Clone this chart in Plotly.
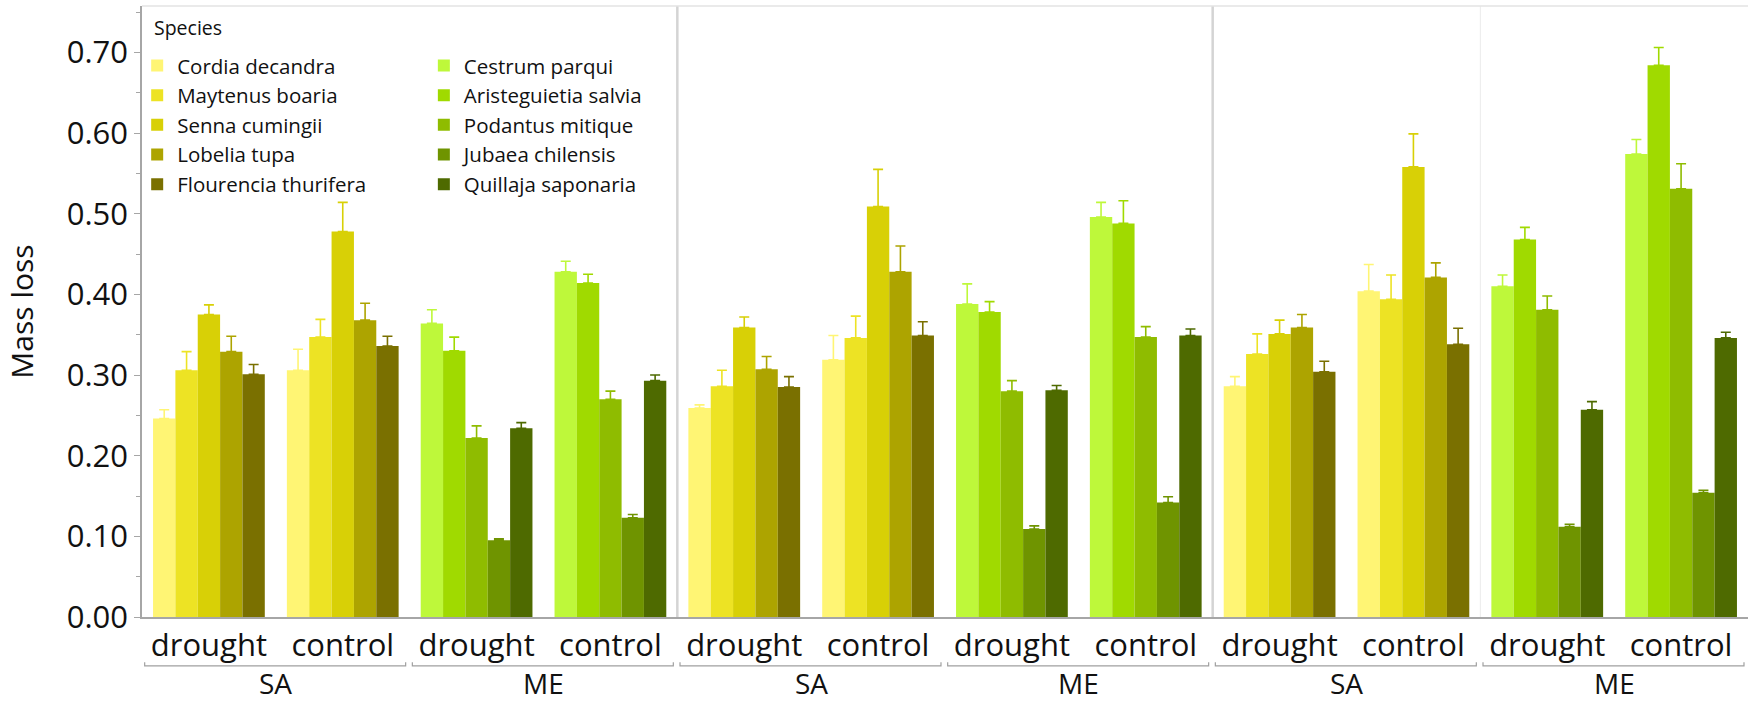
import plotly.graph_objects as go

# ---------------- data ----------------
categories = ["P1 SA drought", "P1 SA control", "P1 ME drought", "P1 ME control",
              "P2 SA drought", "P2 SA control", "P2 ME drought", "P2 ME control",
              "P3 SA drought", "P3 SA control", "P3 ME drought", "P3 ME control"]
tick_labels = ["drought", "control"] * 6
site_labels = ["SA", "ME", "SA", "ME", "SA", "ME"]
legend_title = "Species"

sa_species = ["Cordia decandra", "Maytenus boaria", "Senna cumingii", "Lobelia tupa", "Flourencia thurifera"]
me_species = ["Cestrum parqui", "Aristeguietia salvia", "Podantus mitique", "Jubaea chilensis", "Quillaja saponaria"]

# mean mass loss, order: P1 drought, P1 control, P2 drought, P2 control, P3 drought, P3 control
cordia = [0.246, 0.306, 0.259, 0.319, 0.286, 0.404]
maytenus = [0.306, 0.347, 0.286, 0.346, 0.326, 0.394]
senna = [0.375, 0.478, 0.359, 0.509, 0.351, 0.558]
lobelia = [0.329, 0.368, 0.307, 0.428, 0.359, 0.421]
flourencia = [0.301, 0.336, 0.285, 0.349, 0.304, 0.338]

cordia_top = [0.257, 0.332, 0.263, 0.349, 0.298, 0.437]
maytenus_top = [0.329, 0.369, 0.306, 0.373, 0.351, 0.424]
senna_top = [0.387, 0.514, 0.372, 0.555, 0.368, 0.599]
lobelia_top = [0.348, 0.389, 0.323, 0.460, 0.375, 0.439]
flourencia_top = [0.313, 0.348, 0.298, 0.366, 0.317, 0.358]

cestrum = [0.364, 0.428, 0.388, 0.496, 0.410, 0.574]
aristeguietia = [0.330, 0.414, 0.378, 0.488, 0.468, 0.684]
podantus = [0.222, 0.270, 0.280, 0.347, 0.381, 0.531]
jubaea = [0.095, 0.123, 0.109, 0.142, 0.112, 0.154]
quillaja = [0.234, 0.293, 0.281, 0.349, 0.257, 0.346]

cestrum_top = [0.381, 0.441, 0.413, 0.514, 0.424, 0.592]
aristeguietia_top = [0.347, 0.425, 0.391, 0.516, 0.483, 0.706]
podantus_top = [0.237, 0.280, 0.293, 0.360, 0.398, 0.562]
jubaea_top = [0.097, 0.127, 0.113, 0.149, 0.115, 0.157]
quillaja_top = [0.241, 0.300, 0.287, 0.357, 0.267, 0.353]

sa_colors = ["#FFF574", "#EDE324", "#D8D006", "#ADA400", "#7A7000"]
me_colors = ["#BEF83A", "#A0DA00", "#8FBC00", "#6F9400", "#4E6A00"]

sa_means = [cordia, maytenus, senna, lobelia, flourencia]
sa_tops = [cordia_top, maytenus_top, senna_top, lobelia_top, flourencia_top]
me_means = [cestrum, aristeguietia, podantus, jubaea, quillaja]
me_tops = [cestrum_top, aristeguietia_top, podantus_top, jubaea_top, quillaja_top]

sa_cats = [c for c in categories if " SA " in c]
me_cats = [c for c in categories if " ME " in c]

FONT = "Open Sans"
TXT = "#111111"

fig = go.Figure()

def add_species(names, means, tops, colors, cats, legend):
    for k, (name, m, t, col) in enumerate(zip(names, means, tops, colors)):
        fig.add_trace(go.Bar(
            x=cats, y=m, name=name, offsetgroup=str(k),
            marker=dict(color=col, line=dict(width=0)),
            error_y=dict(type="data", symmetric=False,
                         array=[b - a for a, b in zip(m, t)],
                         arrayminus=[0] * len(m),
                         color=col, thickness=1.6, width=5),
            legend=legend,
        ))

add_species(sa_species, sa_means, sa_tops, sa_colors, sa_cats, "legend")
add_species(me_species, me_means, me_tops, me_colors, me_cats, "legend2")

shapes = []
# panel separators
for xv in [3.5, 7.5]:
    shapes.append(dict(type="line", xref="x", yref="paper", x0=xv, x1=xv, y0=0, y1=1,
                       line=dict(color="#D4D4D4", width=2.5)))
shapes.append(dict(type="line", xref="x", yref="paper", x0=9.5, x1=9.5, y0=0, y1=1,
                   line=dict(color="#EBEBEB", width=1)))
# top frame
shapes.append(dict(type="line", xref="paper", yref="paper", x0=0, x1=1, y0=1, y1=1,
                   line=dict(color="#E3E3E3", width=1.5)))
# brackets under pairs
yb = -0.080
for i in range(6):
    a = 2 * i - 0.5 + 0.02
    b = 2 * i + 1.5 - 0.03
    shapes.append(dict(type="path", xref="x", yref="paper",
                       path=f"M {a},{yb + 0.006} L {a},{yb} L {b},{yb} L {b},{yb + 0.006}",
                       line=dict(color="#A0A0A0", width=1.2)))

annotations = []
for i, lab in enumerate(site_labels):
    annotations.append(dict(x=2 * i + 0.5, y=-0.1400, xref="x", yref="paper", text=lab,
                            showarrow=False, yanchor="bottom", borderpad=0,
                            font=dict(family=FONT, size=28, color=TXT)))
annotations.append(dict(x=0.0062, y=0.9656, xref="paper", yref="paper", text=legend_title,
                        showarrow=False, xanchor="left", yanchor="middle",
                        font=dict(family=FONT, size=19.5, color=TXT)))

fig.update_layout(
    width=1749, height=703,
    margin=dict(l=142, r=1, t=6, b=86),
    paper_bgcolor="white", plot_bgcolor="white",
    barmode="group", bargap=0.165, bargroupgap=0,
    shapes=shapes, annotations=annotations,
    font=dict(family=FONT, color=TXT),
    legend=dict(x=-0.003, y=0.935, xanchor="left", yanchor="top",
                font=dict(family=FONT, size=20.5, color=TXT), bgcolor="rgba(0,0,0,0)",
                tracegroupgap=0, itemclick=False),
    legend2=dict(x=0.1755, y=0.935, xanchor="left", yanchor="top",
                 font=dict(family=FONT, size=20.5, color=TXT), bgcolor="rgba(0,0,0,0)",
                 tracegroupgap=0, itemclick=False),
    xaxis=dict(type="category", categoryorder="array", categoryarray=categories,
               range=[-0.5, 11.5], tickmode="array", tickvals=categories, ticktext=tick_labels,
               tickfont=dict(family=FONT, size=31, color=TXT), showline=True,
               linecolor="#A6A6A6", linewidth=1.5, ticks="", showgrid=False, zeroline=False),
    yaxis=dict(range=[0, 0.7575], dtick=0.1, tick0=0, tickformat=".2f",
               tickfont=dict(family=FONT, size=31, color=TXT),
               title=dict(text="Mass loss", font=dict(family=FONT, size=30, color=TXT), standoff=24),
               showline=True, linecolor="#A6A6A6", linewidth=1.5, ticks="outside",
               ticklen=6, tickcolor="#A6A6A6", showgrid=False, zeroline=False,
               minor=dict(dtick=0.05, ticks="outside", ticklen=4, tickcolor="#A6A6A6")),
    showlegend=True,
)

fig.write_html("out.html")
